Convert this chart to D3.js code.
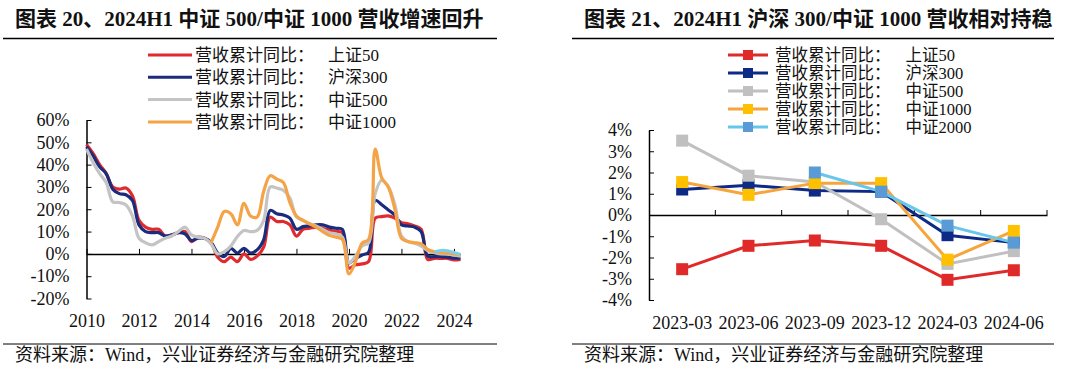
<!DOCTYPE html>
<html>
<head>
<meta charset="utf-8">
<script src="https://cdn.jsdelivr.net/npm/d3@7"></script>
<style>
  html, body { margin: 0; padding: 0; background: #fff; }
  svg { display: block; }
  text { font-family: "Liberation Serif", "Noto Sans CJK SC", serif; fill: #111; }
</style>
</head>
<body>
<div id="chart"></div>
<script>
// ---- left chart data: quarterly cumulative revenue yoy (%), 2010Q1 .. 2024Q2
const quarters = d3.range(58).map(i => 2010 + i * 0.25);
const sz50 = [49, 45, 40, 36, 30, 29, 29.5, 26, 15, 12, 11, 11, 8, 8.5, 9.5, 10,
  5.5, 7.5, 7, 5, -1.5, -3.5, -1.5, -3.5, 0, -2.5, -1, 3, 16.5, 14.5, 14.5, 13,
  8, 11, 11.5, 12, 11.5, 10.7, 10, 9.5, -6.4, -4.9, -4.5, -3.4, 16, 16.7, 17, 16,
  14, 13.5, 12.5, 11, -2.5, -2, -2, -2, -2.7, -2.5];
const hs300 = [48, 44, 39, 36, 29, 27, 26.5, 24, 13, 10, 9.5, 9.5, 8, 8.5, 9.5, 9,
  6, 7, 7, 5, 0.3, -1.2, 2.5, 0.4, 2.5, 0.4, 1.8, 6.3, 19.5, 18, 17.4, 16,
  11, 12.2, 12.5, 13, 13, 12, 11.5, 11, -4, -2, -0.5, 0.8, 24, 22, 19.7, 17.5,
  13, 12.5, 12, 10, -1, -1.2, -1.2, -1.5, -1.9, -1.9];
const zz500 = [47, 41, 36, 32, 23.4, 23, 22, 17, 7, 5, 4, 5.5, 7, 8, 10, 12,
  8.5, 7.5, 7, 4.5, 0, 1, 3.5, 7.8, 10.5, 10, 10.5, 15, 30, 29.5, 28.5, 25,
  16.5, 15, 13.5, 12.5, 11, 9.5, 9, 7.5, -4, -1, 3.5, 5, 27, 33, 30, 22,
  8, 5.5, 4.8, 3.5, 1.5, 0.5, 0, 0, -0.5, -1];
const zz1000 = [null, null, null, null, null, null, null, null, null, null, null, null,
  null, null, null, null, null, null, null, 5, 12, 19, 18, 13, 22.7, 17, 16.5, 28,
  35, 33.5, 32, 23, 17, 15, 13.5, 12, 10, 8.3, 7.5, 6.5, -9, -3.5, 4.8, 6.5,
  47, 34, 30, 20, 7, 5.5, 5, 4.5, 2, 1, 0.5, 0.3, 0, -0.5];
const zz2000 = [null, null, null, null, null, null, null, null, null, null, null, null,
  null, null, null, null, null, null, null, null, null, null, null, null, null, null, null, null,
  null, null, null, null, null, null, null, null, null, null, null, null, null, null, null, null,
  null, null, null, null, null, null, null, null, null, 0.8, 1.5, 1.4, 0.6, -0.3];
const leftXTicks = [2010, 2012, 2014, 2016, 2018, 2020, 2022, 2024];
const leftYTicks = [-20, -10, 0, 10, 20, 30, 40, 50, 60];

// ---- right chart data
const periods = ["2023-03", "2023-06", "2023-09", "2023-12", "2024-03", "2024-06"];
const r50 = [-2.55, -1.45, -1.2, -1.45, -3.05, -2.6];
const r300 = [1.2, 1.4, 1.15, 1.1, -0.95, -1.3];
const r500 = [3.5, 1.85, 1.55, -0.2, -2.3, -1.7];
const r1000 = [1.55, 0.95, 1.5, 1.5, -2.1, -0.75];
const r2000 = [null, null, 2.0, 1.1, -0.5, -1.3];
const rightYTicks = [-4, -3, -2, -1, 0, 1, 2, 3, 4];

const legendPrefix = "营收累计同比：";
const leftNames = ["上证50", "沪深300", "中证500", "中证1000"];
const rightNames = ["上证50", "沪深300", "中证500", "中证1000", "中证2000"];

const W = 1080, H = 374;
const svg = d3.select("#chart").append("svg").attr("width", W).attr("height", H);

// titles, rules and sources
function frame(x0, x1, tx, title) {
  svg.append("text").attr("x", tx).attr("y", 26)
    .style("font-size", "21px").style("font-weight", "bold").text(title);
  svg.append("line").attr("x1", x0).attr("x2", x1).attr("y1", 38.5).attr("y2", 38.5)
    .attr("stroke", "#000").attr("stroke-width", 1.5);
  svg.append("line").attr("x1", x0).attr("x2", x1).attr("y1", 344).attr("y2", 344)
    .attr("stroke", "#000").attr("stroke-width", 1);
  svg.append("text").attr("x", tx).attr("y", 361)
    .style("font-size", "18px").text("资料来源：Wind，兴业证券经济与金融研究院整理");
}
frame(3, 497, 15, "图表 20、2024H1 中证 500/中证 1000 营收增速回升");
frame(572, 1054, 584, "图表 21、2024H1 沪深 300/中证 1000 营收相对持稳");

// ================= left chart =================
const xL = d3.scaleLinear().domain([2010, 2024.25]).range([86.5, 460.5]);
const yL = d3.scaleLinear().domain([-20, 60]).range([298.5, 120]);
const leftColors = ["#df2a2e", "#1c2c7c", "#c4c4c4", "#f4a447"];

const gL = svg.append("g");
const yAxisL = d3.axisLeft(yL).tickValues(leftYTicks).tickFormat(d => d + "%")
  .tickSizeInner(-5).tickSizeOuter(0).tickPadding(17);
gL.append("g").attr("transform", `translate(${xL(2010)},0)`).call(yAxisL);
const xAxisL = d3.axisBottom(xL).tickValues(leftXTicks).tickFormat(d3.format("d"))
  .tickSizeInner(-5).tickSizeOuter(0).tickPadding(60);
gL.append("g").attr("transform", `translate(0,${yL(0)})`).call(xAxisL);

const lineL = d3.line().defined(d => d[1] != null)
  .x(d => xL(d[0])).y(d => yL(d[1])).curve(d3.curveCatmullRom.alpha(0.5));
[sz50, hs300, zz500, zz1000].forEach((s, i) => {
  gL.append("path").datum(quarters.map((q, j) => [q, s[j]]))
    .attr("d", lineL).attr("fill", "none")
    .attr("stroke", leftColors[i]).attr("stroke-width", 3.2).attr("stroke-linejoin", "round");
});
gL.append("path").datum(quarters.map((q, j) => [q, zz2000[j]]))
  .attr("d", lineL).attr("fill", "none")
  .attr("stroke", "#7ccfe6").attr("stroke-width", 3.2);

// left legend
leftNames.forEach((n, i) => {
  const y = 55 + i * 22.3;
  gL.append("line").attr("x1", 148).attr("x2", 192).attr("y1", y).attr("y2", y)
    .attr("stroke", leftColors[i]).attr("stroke-width", 3);
  const t = gL.append("text").attr("x", 195).attr("y", y + 6).style("font-size", "17px");
  t.append("tspan").text(legendPrefix);
  t.append("tspan").attr("dx", 14).text(n);
});

// ================= right chart =================
const xR = d3.scaleBand().domain(periods).range([649, 1047]);
const yR = d3.scaleLinear().domain([-4, 4]).range([300, 130]);
const rightLine = ["#e02a2a", "#0c2a86", "#c0c0c0", "#f6a53c", "#66c7ea"];
const rightMark = ["#e02a2a", "#0c2a86", "#c0c0c0", "#ffc000", "#5b9bd5"];

const gR = svg.append("g");
const yAxisR = d3.axisLeft(yR).tickValues(rightYTicks).tickFormat(d => d + "%")
  .tickSizeInner(-5).tickSizeOuter(0).tickPadding(17);
gR.append("g").attr("transform", "translate(649,0)").call(yAxisR);
const xAxisR = d3.axisBottom(xR).tickSize(0).tickPadding(101);
const xg = gR.append("g").attr("transform", `translate(0,${yR(0)})`).call(xAxisR);
// ticks between categories
xg.selectAll(".bt").data(periods).enter().append("line")
  .attr("x1", d => xR(d) + xR.bandwidth()).attr("x2", d => xR(d) + xR.bandwidth())
  .attr("y1", 0).attr("y2", -5).attr("stroke", "#000");

const lineR = d3.line().defined(d => d[1] != null)
  .x(d => xR(d[0]) + xR.bandwidth() / 2).y(d => yR(d[1]));
const ms = 12;
[r50, r300, r500, r1000, r2000].forEach((s, i) => {
  const pts = periods.map((p, j) => [p, s[j]]);
  gR.append("path").datum(pts).attr("d", lineR).attr("fill", "none")
    .attr("stroke", rightLine[i]).attr("stroke-width", 3);
  gR.append("g").selectAll("rect").data(pts.filter(d => d[1] != null)).enter().append("rect")
    .attr("x", d => xR(d[0]) + xR.bandwidth() / 2 - ms / 2)
    .attr("y", d => yR(d[1]) - ms / 2)
    .attr("width", ms).attr("height", ms).attr("fill", rightMark[i]);
});

// right legend
rightNames.forEach((n, i) => {
  const y = 55 + i * 18;
  gR.append("line").attr("x1", 728).attr("x2", 768).attr("y1", y).attr("y2", y)
    .attr("stroke", rightLine[i]).attr("stroke-width", 3);
  gR.append("rect").attr("x", 743).attr("y", y - 5).attr("width", 10).attr("height", 10)
    .attr("fill", rightMark[i]);
  const t = gR.append("text").attr("x", 775).attr("y", y + 6).style("font-size", "16.5px");
  t.append("tspan").text(legendPrefix);
  t.append("tspan").attr("dx", 15).text(n);
});

// axis styling
svg.selectAll(".domain").attr("stroke", "#000").attr("stroke-width", 1.5);
svg.selectAll(".tick line").attr("stroke", "#000");
svg.selectAll(".tick text").style("font-size", "18px").attr("fill", "#111")
  .style("font-family", "'Liberation Serif', serif");
</script>
</body>
</html>
